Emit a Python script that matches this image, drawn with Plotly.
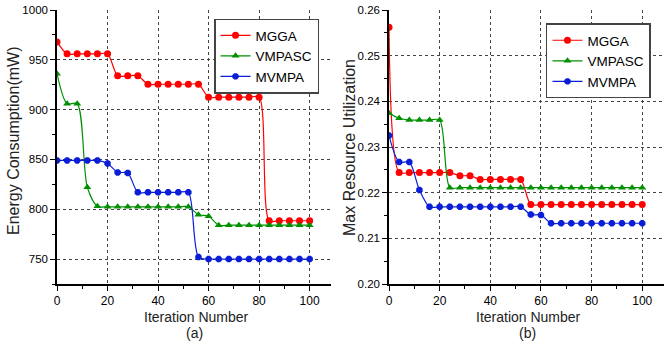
import plotly.graph_objects as go

# ---------------- data ----------------
iterations = [0, 4, 8, 12, 16, 20, 24, 28, 32, 36, 40, 44, 48, 52,
              56, 60, 64, 68, 72, 76, 80, 84, 88, 92, 96, 100]

energy_mgga = [968, 956, 956, 956, 956, 956, 934, 934, 934, 925.5, 925.5, 925.5, 925.5, 925.5,
               925.5, 912.5, 912.5, 912.5, 912.5, 912.5, 912.5, 788.5, 788.5, 788.5, 788.5, 788.5]
energy_vmpasc = [936, 906, 906, 822, 803, 802.5, 802.5, 802.5, 802.5, 802.5, 802.5, 802.5, 802.5, 802.5,
                 794.5, 793, 784, 784, 784, 784, 784, 784, 784, 784, 784, 784]
energy_mvmpa = [849, 849, 849, 849, 849, 846, 837, 836.5, 817, 817, 817, 817, 817, 817,
                752, 750, 750, 750, 750, 750, 750, 750, 750, 750, 750, 750]

util_mgga = [0.2562, 0.2244, 0.2244, 0.2244, 0.2244, 0.2244, 0.2244, 0.2237, 0.2237, 0.2229, 0.2229, 0.2229, 0.2229, 0.2229,
             0.2174, 0.2174, 0.2174, 0.2174, 0.2174, 0.2174, 0.2174, 0.2174, 0.2174, 0.2174, 0.2174, 0.2174]
util_vmpasc = [0.2374, 0.2363, 0.2359, 0.2359, 0.2359, 0.2359, 0.2211, 0.2211, 0.2211, 0.2211, 0.2211, 0.2211, 0.2211, 0.2211,
               0.2211, 0.2211, 0.2211, 0.2211, 0.2211, 0.2211, 0.2211, 0.2211, 0.2211, 0.2211, 0.2211, 0.2211]
util_mvmpa = [0.2325, 0.2267, 0.2267, 0.2206, 0.2169, 0.2169, 0.2169, 0.2169, 0.2169, 0.2169, 0.2169, 0.2169, 0.2169, 0.2169,
              0.2152, 0.2151, 0.2133, 0.2133, 0.2133, 0.2133, 0.2133, 0.2133, 0.2133, 0.2133, 0.2133, 0.2133]

series_names = ["MGGA", "VMPASC", "MVMPA"]
# --------------------------------------

colors = ["#FF0000", "#009000", "#0A1ED8"]
symbols = ["circle", "triangle-up", "octagon"]
FONT = "Liberation Sans, Arial, sans-serif"

fig = go.Figure()

panels = [
    ([energy_mgga, energy_vmpasc, energy_mvmpa], "x", "y", "legend"),
    ([util_mgga, util_vmpasc, util_mvmpa], "x2", "y2", "legend2"),
]
for vals_list, xa, ya, lg in panels:
    for name, vals, c, s in zip(series_names, vals_list, colors, symbols):
        fig.add_trace(go.Scatter(
            x=iterations, y=vals, mode="lines+markers", name=name,
            line=dict(color=c, width=1.2, shape="spline", smoothing=0.8),
            marker=dict(symbol=s, size=7, color=c, line=dict(width=0)),
            xaxis=xa, yaxis=ya, legend=lg))

axis_common = dict(
    showline=True, linecolor="black", linewidth=1.5,
    ticks="outside", ticklen=5, tickwidth=1, tickcolor="black",
    showgrid=True, gridcolor="#444444", gridwidth=1, griddash="dot",
    zeroline=False, automargin=False,
)

fig.update_layout(
    width=664, height=347,
    margin=dict(l=57, r=0, t=10, b=63),
    paper_bgcolor="white", plot_bgcolor="white",
    font=dict(family=FONT, color="black"),
    showlegend=True,
    xaxis=dict(domain=[0, 0.452], range=[0, 108.6], tick0=0, dtick=20, anchor="y",
               tickfont=dict(size=12),
               minor=dict(dtick=10, ticks="outside", ticklen=3, tickcolor="black", showgrid=False),
               **axis_common),
    yaxis=dict(domain=[0, 1], range=[725, 1000], tick0=0, dtick=50, anchor="x",
               tickfont=dict(size=11.5),
               minor=dict(dtick=25, ticks="outside", ticklen=3, tickcolor="black", showgrid=False),
               **axis_common),
    xaxis2=dict(domain=[0.547, 1], range=[0, 108.6], tick0=0, dtick=20, anchor="y2",
                tickfont=dict(size=12),
                minor=dict(dtick=10, ticks="outside", ticklen=3, tickcolor="black", showgrid=False),
                **axis_common),
    yaxis2=dict(domain=[0, 1], range=[0.20, 0.26], tick0=0, dtick=0.01, tickformat=".2f", anchor="x2",
                tickfont=dict(size=11.5),
                minor=dict(dtick=0.005, ticks="outside", ticklen=3, tickcolor="black", showgrid=False),
                **axis_common),
    legend=dict(x=0.2587, y=0.8321, xanchor="left", yanchor="middle",
                bgcolor="white", bordercolor="#444444", borderwidth=1.5,
                font=dict(size=13.5, family=FONT), tracegroupgap=0, itemwidth=30),
    legend2=dict(x=0.8056, y=0.8139, xanchor="left", yanchor="middle",
                 bgcolor="white", bordercolor="#444444", borderwidth=1.5,
                 font=dict(size=13.5, family=FONT), tracegroupgap=0, itemwidth=30),
)

ann_font_title = dict(family=FONT, size=16, color="#222222")
ann_font_x = dict(family=FONT, size=14, color="#222222")
annotations = [
    dict(text="Energy Consumption(mW)", x=-0.0708, y=0.522, textangle=-90, font=ann_font_title),
    dict(text="Max Resource Utilization", x=0.481, y=0.5, textangle=-90, font=ann_font_title),
    dict(text="Iteration Number", x=0.2298, y=-0.1193, font=ann_font_x),
    dict(text="(a)", x=0.2273, y=-0.1788, font=ann_font_x),
    dict(text="Iteration Number", x=0.777, y=-0.1193, font=ann_font_x),
    dict(text="(b)", x=0.7743, y=-0.1788, font=ann_font_x),
]
for a in annotations:
    fig.add_annotation(xref="paper", yref="paper", showarrow=False,
                       xanchor="center", yanchor="middle", **a)

# remove the default 8px body margin so the figure sits at the page origin
fig.write_html("out.html",
               config={"displayModeBar": False},
               post_script="document.body.style.margin='0';document.body.style.overflow='hidden';")
